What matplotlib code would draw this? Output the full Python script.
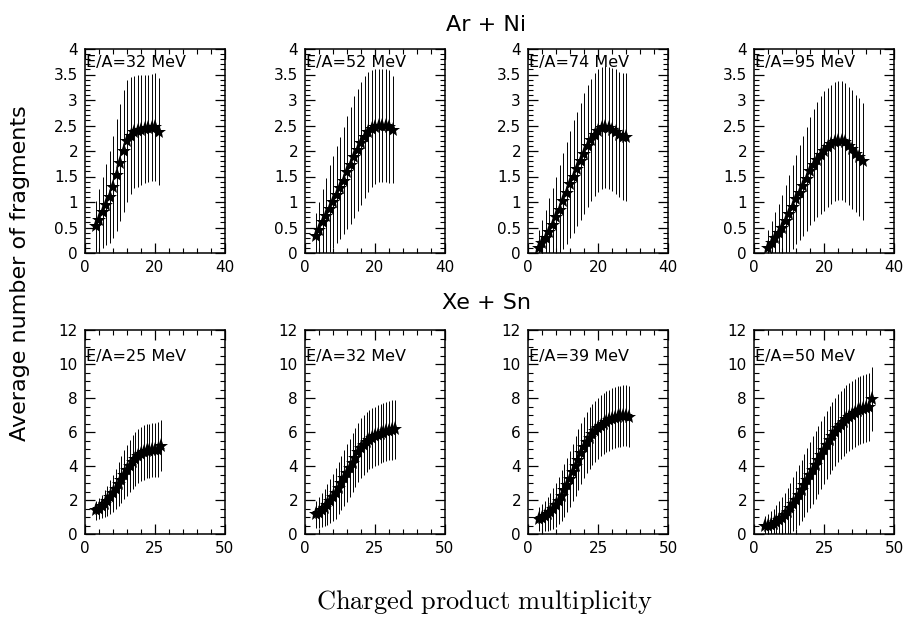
import matplotlib.pyplot as plt
from matplotlib.ticker import MultipleLocator, FormatStrFormatter

plt.rcParams['font.family'] = 'DejaVu Sans'
plt.rcParams['mathtext.fontset'] = 'cm'

# Ar + Ni panels
ar_labels = ["E/A=32 MeV", "E/A=52 MeV", "E/A=74 MeV", "E/A=95 MeV"]

ar32_x = list(range(3, 22))
ar32_y = [0.52, 0.65, 0.8, 0.95, 1.1, 1.3, 1.53, 1.77, 2.0, 2.2, 2.3, 2.37, 2.4, 2.42, 2.44, 2.45, 2.46, 2.47, 2.38]
ar32_s = [0.5, 0.6, 0.7, 0.8, 0.9, 1.0, 1.1, 1.15, 1.2, 1.2, 1.15, 1.1, 1.1, 1.08, 1.06, 1.05, 1.05, 1.05, 1.05]

ar52_x = list(range(3, 26))
ar52_y = [0.33, 0.45, 0.6, 0.72, 0.87, 1.0, 1.14, 1.28, 1.42, 1.58, 1.72, 1.88, 2.02, 2.15, 2.27, 2.37, 2.44, 2.48, 2.5, 2.5, 2.5, 2.48, 2.42]
ar52_s = [0.45, 0.55, 0.65, 0.75, 0.85, 0.9, 0.95, 1.0, 1.05, 1.1, 1.15, 1.2, 1.2, 1.2, 1.2, 1.18, 1.15, 1.12, 1.1, 1.1, 1.1, 1.1, 1.05]

ar74_x = list(range(3, 29))
ar74_y = [0.1, 0.2, 0.3, 0.42, 0.55, 0.7, 0.85, 1.02, 1.18, 1.35, 1.5, 1.65, 1.8, 1.95, 2.1, 2.22, 2.32, 2.4, 2.45, 2.47, 2.45, 2.42, 2.38, 2.32, 2.28, 2.27]
ar74_s = [0.35, 0.45, 0.55, 0.65, 0.72, 0.8, 0.88, 0.95, 1.0, 1.05, 1.1, 1.12, 1.15, 1.18, 1.2, 1.2, 1.2, 1.2, 1.2, 1.2, 1.2, 1.2, 1.22, 1.22, 1.25, 1.25]

ar95_x = list(range(4, 32))
ar95_y = [0.1, 0.2, 0.3, 0.4, 0.5, 0.63, 0.77, 0.9, 1.05, 1.18, 1.32, 1.46, 1.6, 1.72, 1.83, 1.92, 2.0, 2.07, 2.13, 2.18, 2.2, 2.2, 2.17, 2.1, 2.03, 1.95, 1.88, 1.8]
ar95_s = [0.35, 0.42, 0.5, 0.57, 0.63, 0.7, 0.76, 0.82, 0.88, 0.93, 0.98, 1.02, 1.06, 1.1, 1.13, 1.15, 1.17, 1.17, 1.17, 1.17, 1.17, 1.17, 1.17, 1.16, 1.16, 1.15, 1.15, 1.15]

# Xe + Sn panels
xe_labels = ["E/A=25 MeV", "E/A=32 MeV", "E/A=39 MeV", "E/A=50 MeV"]

xe25_x = list(range(4, 28))
xe25_y = [1.4, 1.5, 1.62, 1.78, 1.95, 2.15, 2.4, 2.65, 2.92, 3.2, 3.48, 3.75, 4.0, 4.22, 4.42, 4.58, 4.7, 4.8, 4.87, 4.9, 4.93, 4.95, 4.97, 5.2]
xe25_s = [0.55, 0.6, 0.7, 0.8, 0.9, 1.0, 1.1, 1.2, 1.3, 1.4, 1.45, 1.5, 1.55, 1.6, 1.6, 1.6, 1.6, 1.6, 1.6, 1.6, 1.6, 1.6, 1.6, 1.5]

xe32_x = list(range(4, 33))
xe32_y = [1.15, 1.25, 1.4, 1.55, 1.72, 1.92, 2.15, 2.4, 2.7, 3.0, 3.3, 3.6, 3.9, 4.2, 4.5, 4.8, 5.05, 5.25, 5.42, 5.55, 5.65, 5.75, 5.83, 5.9, 5.97, 6.03, 6.08, 6.12, 6.15]
xe32_s = [0.8, 0.9, 1.0, 1.1, 1.2, 1.3, 1.4, 1.5, 1.55, 1.6, 1.65, 1.7, 1.7, 1.75, 1.75, 1.75, 1.75, 1.75, 1.75, 1.75, 1.75, 1.75, 1.75, 1.75, 1.75, 1.75, 1.75, 1.75, 1.75]

xe39_x = list(range(4, 37))
xe39_y = [0.9, 0.95, 1.05, 1.17, 1.32, 1.5, 1.72, 1.97, 2.25, 2.57, 2.9, 3.25, 3.62, 4.0, 4.38, 4.75, 5.1, 5.4, 5.65, 5.87, 6.05, 6.22, 6.37, 6.5, 6.6, 6.7, 6.78, 6.85, 6.9, 6.93, 6.95, 6.95, 6.9]
xe39_s = [0.7, 0.8, 0.9, 1.0, 1.1, 1.2, 1.3, 1.4, 1.5, 1.55, 1.6, 1.65, 1.7, 1.75, 1.8, 1.8, 1.8, 1.8, 1.8, 1.8, 1.8, 1.8, 1.8, 1.8, 1.8, 1.8, 1.8, 1.8, 1.8, 1.8, 1.8, 1.8, 1.8]

xe50_x = list(range(4, 43))
xe50_y = [0.45, 0.48, 0.53, 0.6, 0.7, 0.82, 0.95, 1.12, 1.3, 1.52, 1.75, 2.0, 2.28, 2.57, 2.87, 3.17, 3.47, 3.77, 4.07, 4.37, 4.67, 4.97, 5.25, 5.52, 5.78, 6.0, 6.22, 6.42, 6.6, 6.76, 6.9, 7.02, 7.12, 7.22, 7.3, 7.37, 7.42, 7.45, 7.95]
xe50_s = [0.6, 0.7, 0.8, 0.9, 1.0, 1.1, 1.2, 1.3, 1.4, 1.5, 1.6, 1.7, 1.75, 1.8, 1.85, 1.9, 1.95, 2.0, 2.0, 2.0, 2.0, 2.0, 2.0, 2.0, 2.0, 2.0, 2.0, 2.0, 2.0, 2.0, 2.0, 2.0, 2.0, 2.0, 2.0, 2.0, 2.0, 2.0, 1.9]

ar_data = [(ar32_x, ar32_y, ar32_s), (ar52_x, ar52_y, ar52_s), (ar74_x, ar74_y, ar74_s), (ar95_x, ar95_y, ar95_s)]
xe_data = [(xe25_x, xe25_y, xe25_s), (xe32_x, xe32_y, xe32_s), (xe39_x, xe39_y, xe39_s), (xe50_x, xe50_y, xe50_s)]

W, H = 909, 621
fig = plt.figure(figsize=(W / 100, H / 100), dpi=100)

lefts = [85, 305, 528, 754]
pw, ph = 140, 204


def draw_panel(ax, x, y, s, label, xmax, ymax, xmaj, xmin, ymaj, ymin, lab_y):
    lo = [a - b for a, b in zip(y, s)]
    hi = [a + b for a, b in zip(y, s)]
    ax.vlines(x, lo, hi, color='k', lw=0.7)
    ax.plot(x, y, '*', color='k', ms=11, mew=0)
    ax.set_xlim(0, xmax)
    ax.set_ylim(0, ymax)
    ax.xaxis.set_major_locator(MultipleLocator(xmaj))
    ax.xaxis.set_minor_locator(MultipleLocator(xmin))
    ax.yaxis.set_major_locator(MultipleLocator(ymaj))
    ax.yaxis.set_minor_locator(MultipleLocator(ymin))
    ax.yaxis.set_major_formatter(FormatStrFormatter('%g'))
    ax.tick_params(which='both', direction='in', top=True, right=True, labelsize=11, pad=5)
    ax.tick_params(which='major', length=7, width=0.9)
    ax.tick_params(which='minor', length=3.5, width=0.8)
    for sp in ax.spines.values():
        sp.set_linewidth(1.1)
    ax.text(0.01, lab_y, label, transform=ax.transAxes, fontsize=11.5, va='center', ha='left')


for i, (x, y, s) in enumerate(ar_data):
    ax = fig.add_axes([lefts[i] / W, 1 - 253 / H, pw / W, ph / H])
    draw_panel(ax, x, y, s, ar_labels[i], 40, 4, 20, 4, 0.5, 0.1, 0.935)

for i, (x, y, s) in enumerate(xe_data):
    ax = fig.add_axes([lefts[i] / W, 1 - 534 / H, pw / W, ph / H])
    draw_panel(ax, x, y, s, xe_labels[i], 50, 12, 25, 5, 2, 0.5, 0.87)

fig.text(0.535, 1 - 25 / H, "Ar + Ni", fontsize=16, ha='center', va='center')
fig.text(0.535, 1 - 303 / H, "Xe + Sn", fontsize=16, ha='center', va='center')
fig.text(0.022, 0.56, "Average number of fragments", rotation=90, fontsize=16, ha='center', va='center')
fig.text(0.533, 1 - 602 / H, r"$\mathrm{Charged\ product\ multiplicity}$", fontsize=19, ha='center', va='center')

fig.savefig("out.png", dpi=100)
